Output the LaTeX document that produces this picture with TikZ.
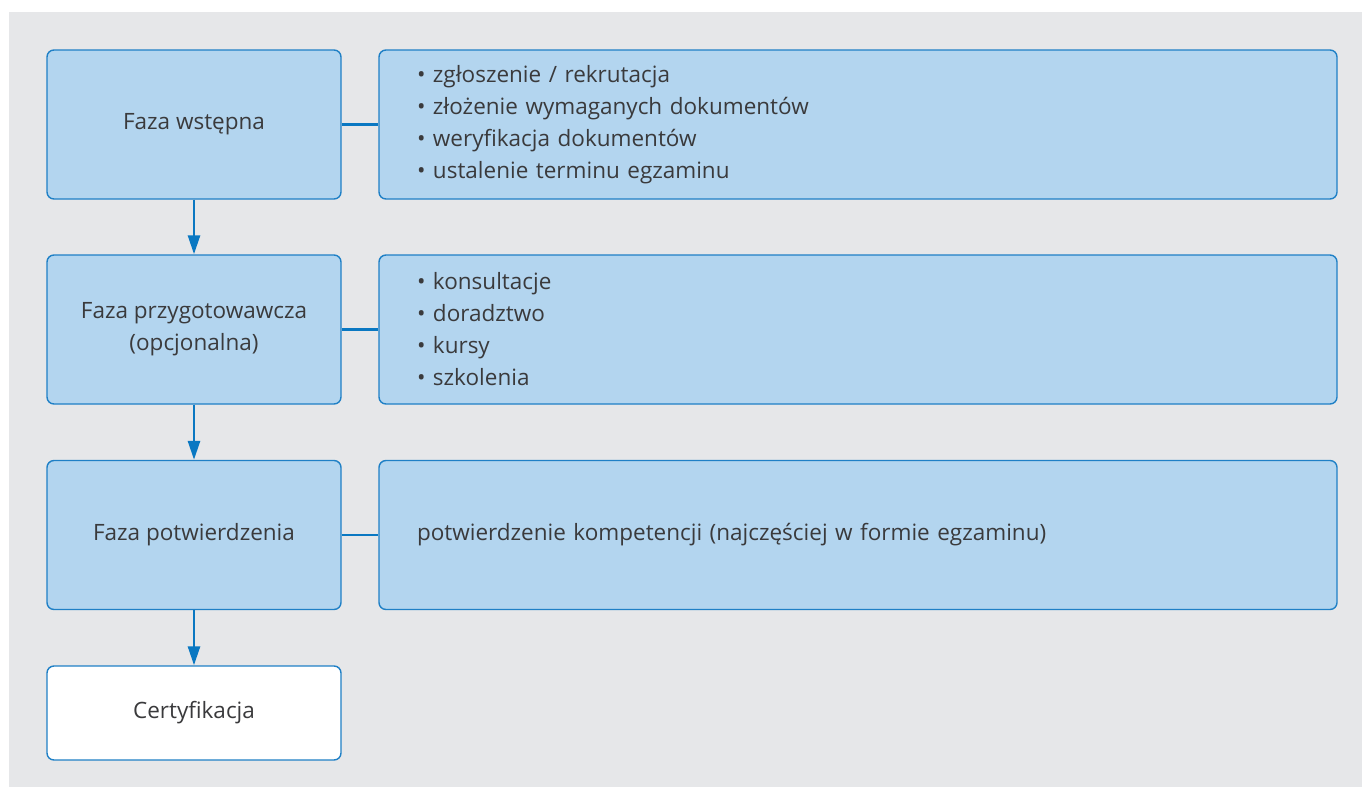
\documentclass[tikz,border=0pt]{standalone}
\usepackage{fontspec}
\setmainfont{Open Sans}
\usetikzlibrary{arrows.meta}
\definecolor{bggray}{HTML}{E6E7E9}
\definecolor{boxfill}{HTML}{B3D5EF}
\definecolor{boxline}{HTML}{1F80C6}
\definecolor{flowblue}{HTML}{0A78C2}
\definecolor{txtgray}{HTML}{3A3A3C}
\begin{document}
\begin{tikzpicture}[x=1pt,y=-1pt,
    phase/.style={draw=boxline, fill=boxfill, rounded corners=7pt, line width=1.4pt,
      minimum width=294pt, minimum height=149pt, inner sep=0pt, align=center,
      text=txtgray, font=\fontsize{22.5}{32}\selectfont},
    detail/.style={phase, minimum width=958pt, inner xsep=38pt, text width=882pt, align=left},
    flow/.style={draw=flowblue, line width=2.8pt, -{Triangle[length=19pt,width=12pt]}},
    link/.style={draw=flowblue, line width=2.6pt}
    ]
    \useasboundingbox (0,0) rectangle (1362,787);
    \fill[bggray] (9,12) rectangle (1362,787);
    % phases on the left
    \node[phase] (wstepna) at (194,124.5) {Faza wstępna};
    \node[phase] (przyg) at (194,329.5) {Faza przygotowawcza\\(opcjonalna)};
    \node[phase] (potw) at (194,535) {Faza potwierdzenia};
    \node[phase, fill=white, minimum height=94pt] (cert) at (194,713) {Certyfikacja};
    % what happens in each phase
    \node[detail] (wstepnaD) at (858,124.5) {\textbullet\ zgłoszenie / rekrutacja\\
      \textbullet\ złożenie wymaganych dokumentów\\
      \textbullet\ weryfikacja dokumentów\\
      \textbullet\ ustalenie terminu egzaminu};
    \node[detail] (przygD) at (858,329.5) {\textbullet\ konsultacje\\
      \textbullet\ doradztwo\\
      \textbullet\ kursy\\
      \textbullet\ szkolenia};
    \node[detail] (potwD) at (858,535) {potwierdzenie kompetencji (najczęściej w formie egzaminu)};
    % connectors
    \draw[flow] (wstepna) -- (przyg);
    \draw[flow] (przyg) -- (potw);
    \draw[flow] (potw) -- (cert);
    \draw[link] (wstepna) -- (wstepnaD);
    \draw[link] (przyg) -- (przygD);
    \draw[link] (potw) -- (potwD);
\end{tikzpicture}
\end{document}
